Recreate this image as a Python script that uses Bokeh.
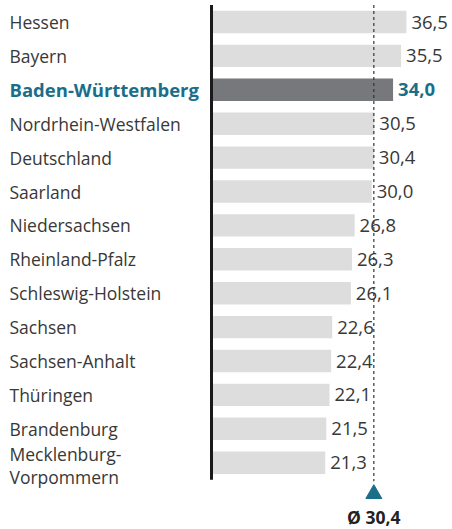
from bokeh.plotting import figure
from bokeh.models import Range1d, ColumnDataSource
from bokeh.core.properties import value
from bokeh.embed import file_html
from bokeh.resources import INLINE

regions = ["Hessen", "Bayern", "Baden-Württemberg", "Nordrhein-Westfalen", "Deutschland",
           "Saarland", "Niedersachsen", "Rheinland-Pfalz", "Schleswig-Holstein", "Sachsen",
           "Sachsen-Anhalt", "Thüringen", "Brandenburg", "Mecklenburg-\nVorpommern"]
values = [36.5, 35.5, 34.0, 30.5, 30.4, 30.0, 26.8, 26.3, 26.1, 22.6, 22.4, 22.1, 21.5, 21.3]
highlight = "Baden-Württemberg"
average = 30.4
avg_label = "Ø 30,4"

TEAL = "#1b6e8a"
TXT = "#383838"
FONT = "Open Sans"

W, H = 452, 529
px_per_unit = 5.34
x0_px = 211
x_start = -x0_px / px_per_unit
x_end = x_start + W / px_per_unit
row_px = 33.9
first_px = 21.5
y_top = -first_px / row_px
y_bottom = y_top + H / row_px

p = figure(width=W, height=H, output_backend="svg", toolbar_location=None,
           x_range=Range1d(x_start, x_end), y_range=Range1d(y_bottom, y_top),
           min_border=0, outline_line_color=None)
p.axis.visible = False
p.grid.visible = False

n = len(regions)
ys = list(range(n))
bar_colors = ["#77787c" if r == highlight else "#dddddd" for r in regions]
lbl_colors = [TEAL if r == highlight else TXT for r in regions]
lbl_styles = ["bold" if r == highlight else "normal" for r in regions]
lbl_sizes = ["18.5px" if r == highlight else "17.5px" for r in regions]
lbl_y = [y + (0.08 if "\n" in r else 0) for y, r in zip(ys, regions)]
val_txt = [f"{v:.1f}".replace(".", ",") for v in values]

src = ColumnDataSource(dict(y=ys, ly=lbl_y, v=values, r=regions, bc=bar_colors,
                            lc=lbl_colors, ls=lbl_styles, lz=lbl_sizes, vt=val_txt))

p.hbar(y="y", left=0, right="v", height=0.66, fill_color="bc", line_color=None, source=src)

p.text(x=x_start + 9 / px_per_unit, y="ly", text="r", text_color="lc", text_font_style="ls",
       text_font=value(FONT), text_font_size="lz", text_baseline="middle", text_align="left",
       text_line_height=0.95, source=src)
p.text(x="v", y="y", text="vt", text_color="lc", text_font_style="ls", x_offset=5,
       text_font=value(FONT), text_font_size="18.5px", text_baseline="middle", text_align="left",
       source=src)

# baseline axis
p.segment(x0=[0], y0=[-0.5], x1=[0], y1=[n - 1 + 0.5], line_color="#1a1a1a", line_width=3)
# average line
p.segment(x0=[average], y0=[-0.5], x1=[average], y1=[n - 1 + 0.55], line_color="#333333",
          line_width=1.2, line_dash="3 3")
p.scatter(x=[average], y=[n - 1 + 0.92], marker="triangle", size=16, fill_color=TEAL,
          line_color=TEAL)
p.text(x=[average], y=[n - 1 + 1.6], text=[avg_label], text_font=value(FONT),
       text_font_size="17.5px", text_font_style="bold", text_color="#222222",
       text_align="center", text_baseline="middle")

open("out.html", "w").write(file_html(p, INLINE))
